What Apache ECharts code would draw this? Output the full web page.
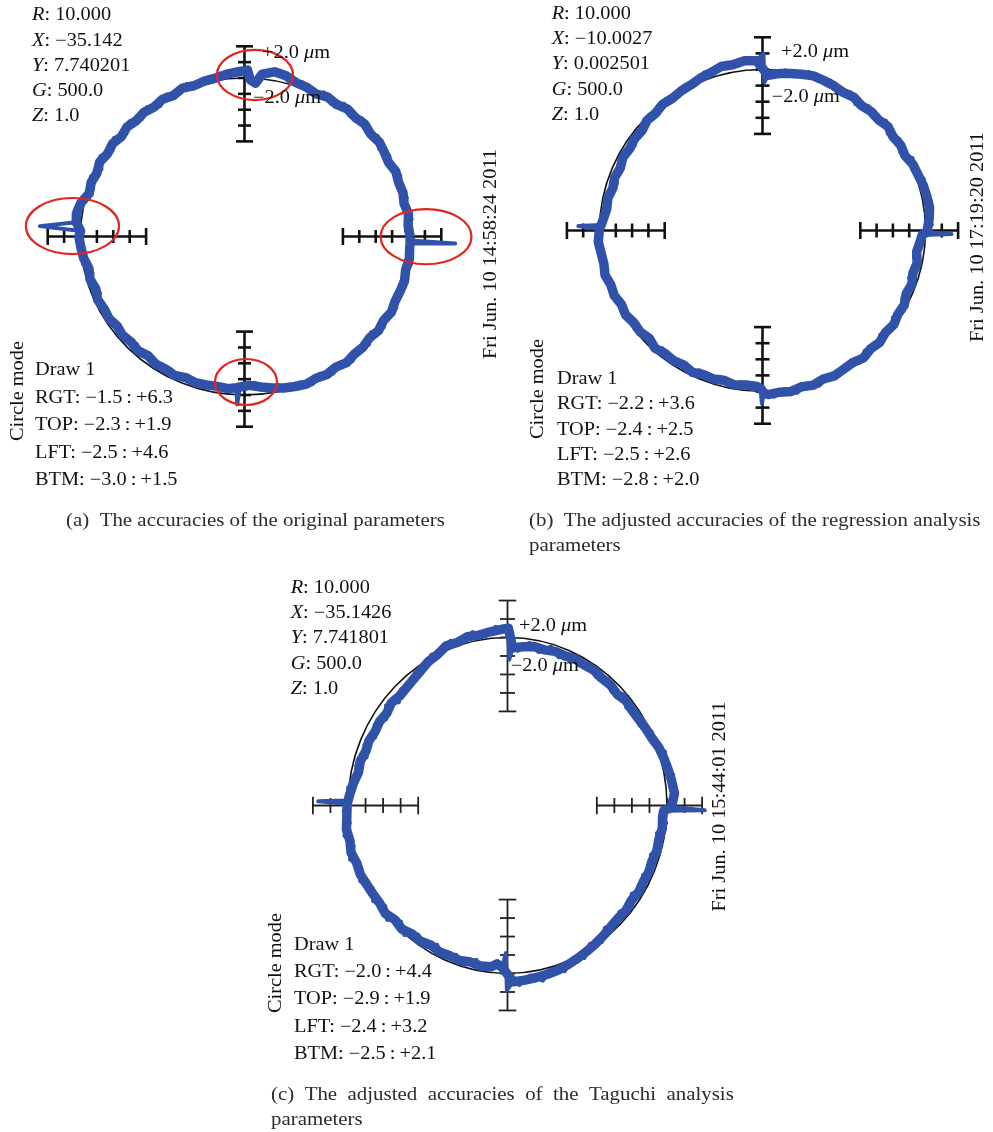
<!DOCTYPE html>
<html>
<head>
<meta charset="utf-8">
<script src="https://cdn.jsdelivr.net/npm/echarts@6/dist/echarts.min.js"></script>
<style>
  html, body { margin: 0; padding: 0; background: #ffffff; }
  #chart { width: 993px; height: 1132px; }
</style>
</head>
<body>
<div id="chart"></div>
<script>
// Nominal circle radius (R = 10.000 mm) is drawn as 10 plot units.
// Radial deviations are given in micrometres at the listed angle (degrees, counter-clockwise from +X).
const NOMINAL_R = 10;

// (a) original parameters: main samples every 4 degrees
const traceA = [
  [0,0.1],[4,0.0],[8,0.1],[12,-0.05],[16,0.05],[20,0.0],[24,0.1],[28,-0.05],[32,0.05],[36,0.15],
  [40,0.05],[44,0.2],[48,0.1],[52,0.2],[56,0.05],[60,0.15],[64,0.0],[68,0.15],[72,0.2],[76,0.45],
  [80,0.55],[84,0.3],[86,-0.3],[88,-0.1],[89,0.5],[92,0.4],[96,0.3],[100,0.15],[104,0.1],[108,0.0],
  [112,0.1],[116,-0.1],[120,0.0],[124,-0.15],[128,-0.05],[132,-0.15],[136,-0.05],[140,-0.2],[144,-0.05],[148,-0.15],
  [152,0.0],[156,-0.15],[160,-0.05],[164,-0.15],[168,0.2],[172,0.35],[175,0.3],[178,0.0],[180,0.1],
  [184,0.0],[188,-0.1],[192,-0.3],[196,-0.2],[200,-0.35],[204,-0.2],[208,-0.3],[212,-0.25],[216,-0.4],[220,-0.3],
  [224,-0.4],[228,-0.3],[232,-0.45],[236,-0.3],[240,-0.35],[244,-0.25],[248,-0.4],[252,-0.3],[256,-0.35],[260,-0.4],
  [264,-0.35],[267,-0.45],[268.3,-0.5],[272,-0.6],[276,-0.45],[280,-0.3],[284,-0.15],[288,-0.05],[292,0.05],
  [296,-0.05],[300,0.05],[304,-0.05],[308,0.1],[312,0.0],[316,0.05],[320,-0.05],[324,0.1],[328,0.0],[332,0.15],
  [336,0.05],[340,0.1],[344,0.15],[348,0.05],[352,0.15],[356,0.1],[357.5,0.1],[358.6,0.1]
];
// (a) reversal spikes at the quadrant crossings
const glitchA = [[177,2.5],[267.6,0.6],[358,2.85]];
// (a) in-between samples (fine ripple of the trace)
const fringeA = [
  [2,-0.15],[6,0.25],[10,-0.1],[14,0.2],[18,-0.15],[22,0.25],[26,-0.1],[30,0.2],[34,-0.1],[38,0.3],
  [42,-0.05],[46,0.35],[50,-0.05],[54,0.35],[58,-0.1],[62,0.3],[66,-0.1],[70,0.35],[74,0.1],[78,0.65],
  [82,0.35],[94,0.45],[98,0.05],[102,0.3],[106,-0.1],[110,0.25],[114,-0.15],[118,0.15],[122,-0.3],[126,0.1],
  [130,-0.3],[134,0.1],[138,-0.3],[142,0.1],[146,-0.3],[150,0.15],[154,-0.3],[158,0.1],[162,-0.3],[166,0.05],
  [170,0.45],[182,0.2],[186,-0.2],[190,0.0],[194,-0.45],[198,-0.1],[202,-0.5],[206,-0.15],[210,-0.45],[214,-0.15],
  [218,-0.5],[222,-0.2],[226,-0.55],[230,-0.2],[234,-0.55],[238,-0.2],[242,-0.5],[246,-0.15],[250,-0.5],[254,-0.2],
  [258,-0.5],[262,-0.25],[270,-0.4],[274,-0.75],[278,-0.25],[282,-0.45],[286,0.05],[290,-0.2],[294,0.2],[298,-0.2],
  [302,0.2],[306,-0.15],[310,0.25],[314,-0.15],[318,0.2],[322,-0.2],[326,0.25],[330,-0.1],[334,0.3],[338,-0.1],
  [342,0.3],[346,-0.05],[350,0.3],[354,-0.05]
];

// (b) regression-analysis parameters
const traceB = [
  [0,0.1],[4,0.25],[8,0.35],[12,0.3],[16,0.25],[20,0.15],[24,0.1],[28,-0.1],[32,0.0],[36,-0.1],
  [40,0.05],[44,-0.1],[48,-0.05],[52,-0.15],[56,0.0],[60,-0.1],[64,0.0],[68,0.05],[72,0.1],[76,0.0],
  [80,-0.1],[84,-0.2],[88,-0.35],[92,0.55],[96,0.6],[100,0.45],[104,0.5],[108,0.3],
  [112,0.2],[116,0.05],[120,0.0],[124,-0.1],[128,-0.05],[132,-0.2],[136,-0.15],[140,-0.35],[144,-0.3],[148,-0.4],
  [152,-0.3],[156,-0.45],[160,-0.35],[164,-0.45],[168,-0.3],[172,-0.35],[176,-0.2],[178,-0.1],[179.3,0.0],
  [184,0.1],[188,0.0],[192,-0.05],[196,0.05],[200,-0.1],[204,-0.05],[208,-0.2],[212,-0.1],[216,-0.25],[220,-0.2],
  [224,-0.35],[228,-0.15],[232,-0.3],[236,-0.25],[240,-0.35],[244,-0.2],[248,-0.35],[252,-0.3],[256,-0.4],[260,-0.25],
  [264,-0.35],[268,-0.3],[269.3,-0.2],[270.5,0.1],[272,0.2],[276,0.1],[280,0.15],[284,0.0],[288,0.1],
  [292,-0.05],[296,0.05],[300,-0.05],[304,-0.1],[308,0.05],[312,-0.1],[316,0.0],[320,-0.15],[324,-0.05],[328,-0.2],
  [332,-0.15],[336,-0.35],[340,-0.25],[344,-0.4],[348,-0.3],[352,-0.45],[356,-0.3],[358.4,-0.2],[359.5,0.1]
];
const glitchB = [[89.3,-0.8],[89.7,1.0],[178.6,1.3],[269.8,0.75],[358.9,1.6]];
const fringeB = [
  [2,0.4],[6,0.1],[10,0.5],[14,0.15],[18,0.4],[22,-0.05],[26,0.25],[30,-0.25],[34,0.15],[38,-0.25],
  [42,0.2],[46,-0.25],[50,0.1],[54,-0.3],[58,0.15],[62,-0.25],[66,0.2],[70,-0.1],[74,0.25],[78,-0.15],
  [82,0.05],[86,-0.4],[94,0.75],[98,0.4],[102,0.65],[106,0.35],[110,0.45],[114,0.0],[118,0.2],[122,-0.15],
  [126,0.1],[130,-0.25],[134,0.0],[138,-0.35],[142,-0.15],[146,-0.55],[150,-0.2],[154,-0.55],[158,-0.25],[162,-0.6],
  [166,-0.2],[170,-0.5],[174,-0.15],[182,-0.1],[186,0.2],[190,-0.15],[194,0.15],[198,-0.2],[202,0.05],[206,-0.3],
  [210,0.0],[214,-0.35],[218,-0.05],[222,-0.4],[226,-0.2],[230,-0.45],[234,-0.1],[238,-0.45],[242,-0.15],[246,-0.5],
  [250,-0.2],[254,-0.55],[258,-0.2],[262,-0.5],[266,-0.15],[274,0.35],[278,-0.05],[282,0.3],[286,-0.1],[290,0.25],
  [294,-0.15],[298,0.15],[302,-0.2],[306,0.15],[310,-0.25],[314,0.1],[318,-0.3],[322,0.05],[326,-0.35],[330,0.0],
  [334,-0.45],[338,-0.15],[342,-0.55],[346,-0.2],[350,-0.55],[354,-0.2]
];

// (c) Taguchi-analysis parameters
const traceC = [
  [0,0.27],[4,0.45],[8,0.36],[12,0.27],[16,0.18],[20,0.09],[24,-0.09],[28,-0.18],[32,-0.27],[36,-0.32],
  [40,-0.27],[44,-0.41],[48,-0.32],[52,-0.36],[56,-0.27],[60,-0.32],[64,-0.27],[68,-0.36],[72,-0.32],[76,-0.41],
  [80,-0.36],[84,-0.45],[88,-0.55],[89.7,0.5],[92,0.45],[96,0.36],[100,0.27],[104,0.32],[108,0.18],
  [112,0.23],[116,0.0],[120,-0.09],[124,-0.27],[128,-0.41],[132,-0.5],[136,-0.55],[140,-0.45],[144,-0.59],[148,-0.5],
  [152,-0.55],[156,-0.45],[160,-0.5],[164,-0.36],[168,-0.41],[172,-0.23],[176,-0.09],[178.3,0.0],[179.4,0.05],
  [184,0.09],[188,0.18],[192,0.09],[196,0.18],[200,0.05],[204,0.09],[208,0.0],[212,-0.05],[216,-0.09],[220,0.0],
  [224,-0.18],[228,-0.09],[232,-0.27],[236,-0.23],[240,-0.36],[244,-0.27],[248,-0.32],[252,-0.27],[256,-0.36],[260,-0.27],
  [264,-0.32],[266,-0.5],[268,-0.32],[272,0.45],[276,0.41],[280,0.36],[284,0.32],[288,0.27],
  [292,0.18],[296,0.09],[300,0.0],[304,-0.09],[308,-0.18],[312,-0.27],[316,-0.32],[320,-0.27],[324,-0.36],[328,-0.27],
  [332,-0.32],[336,-0.27],[340,-0.32],[344,-0.23],[348,-0.27],[352,-0.18],[356,-0.23],[358.2,-0.18],[359.4,0.27]
];
const glitchC = [[89.3,-1.2],[178.8,1.7],[269.3,-1.1],[269.8,0.9],[358.7,2.16]];
const fringeC = [
  [2,0.5],[6,0.25],[10,0.5],[14,0.1],[18,0.35],[22,-0.1],[26,0.05],[30,-0.4],[34,-0.1],[38,-0.5],
  [42,-0.1],[46,-0.55],[50,-0.15],[54,-0.5],[58,-0.1],[62,-0.5],[66,-0.15],[70,-0.55],[74,-0.15],[78,-0.6],
  [82,-0.2],[86,-0.7],[94,0.6],[98,0.15],[102,0.5],[106,0.1],[110,0.4],[114,0.05],[118,0.15],[122,-0.3],
  [126,-0.15],[130,-0.6],[134,-0.35],[138,-0.75],[142,-0.3],[146,-0.75],[150,-0.35],[154,-0.7],[158,-0.3],[162,-0.65],
  [166,-0.2],[170,-0.45],[174,0.05],[182,0.25],[186,-0.05],[190,0.35],[194,-0.05],[198,0.35],[202,-0.1],[206,0.25],
  [210,-0.2],[214,0.15],[218,-0.25],[222,0.15],[226,-0.35],[230,0.05],[234,-0.45],[238,-0.1],[242,-0.55],[246,-0.15],
  [250,-0.5],[254,-0.1],[258,-0.55],[262,-0.15],[274,0.65],[278,0.2],[282,0.6],[286,0.15],[290,0.45],[294,0.0],
  [298,0.25],[302,-0.25],[306,0.05],[310,-0.45],[314,-0.15],[318,-0.5],[322,-0.1],[326,-0.55],[330,-0.1],[334,-0.5],
  [338,-0.1],[342,-0.5],[346,-0.05],[350,-0.45],[354,0.0]
];

// Red highlight rings on (a): [centre x, centre y, radius x, radius y] in plot units
const ringsA = [
  [0.64, 10.19, 2.32, 1.58],
  [-10.49, 0.66, 2.84, 1.77],
  [11.07, -0.01, 2.77, 1.74],
  [0.09, -9.18, 1.89, 1.45]
];

// Crosshair directions (degrees) and division indices around the nominal circle
const crossAngles = [0, 90, 180, 270];
const crossDivisions = [-4, -3, -2, -1, 0, 1, 2];

// Header values
const paramsA = [['R', '10.000'], ['X', '\u221235.142'], ['Y', '7.740201'], ['G', '500.0'], ['Z', '1.0']];
const paramsB = [['R', '10.000'], ['X', '\u221210.0027'], ['Y', '0.002501'], ['G', '500.0'], ['Z', '1.0']];
const paramsC = [['R', '10.000'], ['X', '\u221235.1426'], ['Y', '7.741801'], ['G', '500.0'], ['Z', '1.0']];

// Range summaries
const rangesA = [['RGT', '\u22121.5', '+6.3'], ['TOP', '\u22122.3', '+1.9'], ['LFT', '\u22122.5', '+4.6'], ['BTM', '\u22123.0', '+1.5']];
const rangesB = [['RGT', '\u22122.2', '+3.6'], ['TOP', '\u22122.4', '+2.5'], ['LFT', '\u22122.5', '+2.6'], ['BTM', '\u22122.8', '+2.0']];
const rangesC = [['RGT', '\u22122.0', '+4.4'], ['TOP', '\u22122.9', '+1.9'], ['LFT', '\u22122.4', '+3.2'], ['BTM', '\u22122.5', '+2.1']];

const datesList = ['Fri Jun. 10 14:58:24 2011', 'Fri Jun. 10 17:19:20 2011', 'Fri Jun. 10 15:44:01 2011'];

const captionA = ['(a)\u2002The accuracies of the original parameters'];
const captionB = ['(b)\u2002The adjusted accuracies of the regression analysis', 'parameters'];
const captionC = ['(c)\u2002The\u2002adjusted\u2002accuracies\u2002of\u2002the\u2002Taguchi\u2002analysis', 'parameters'];

// ---- layout of the three panels (pixels) ----
const panels = [
  { trace: traceA, glitch: glitchA, fringe: fringeA, rings: ringsA, params: paramsA, ranges: rangesA, date: datesList[0], caption: captionA,
    cx: 244.5, cy: 236.5, sx: 16.4, sy: 15.85, div: 1.0,
    crossColor: '#111111', crossWidth: 2.6, tickHalf: 6.5, endHalf: 8.5,
    paramX: 32, paramY: 15.7, paramStep: 25.2,
    drawX: 35, drawY: 370.7, drawStep: 27.5,
    modeX: 18, modeY: 391, dateX: 491.7, dateY: 254,
    plusX: 262, plusY: 53, minusX: 253, minusY: 98,
    capX: 66, capY: 521 },
  { trace: traceB, glitch: glitchB, fringe: fringeB, rings: [], params: paramsB, ranges: rangesB, date: datesList[1], caption: captionB,
    cx: 762.5, cy: 230.5, sx: 16.3, sy: 16.1, div: 1.0,
    crossColor: '#111111', crossWidth: 2.6, tickHalf: 7, endHalf: 8.5,
    paramX: 551.7, paramY: 14.3, paramStep: 25.2,
    drawX: 557, drawY: 379, drawStep: 25.4,
    modeX: 538, modeY: 389, dateX: 978, dateY: 237,
    plusX: 781, plusY: 52, minusX: 771.7, minusY: 97,
    capX: 529, capY: 521 },
  { trace: traceC, glitch: glitchC, fringe: fringeC, rings: [], params: paramsC, ranges: rangesC, date: datesList[2], caption: captionC,
    cx: 507.5, cy: 805.5, sx: 15.95, sy: 16.8, div: 1.1,
    crossColor: '#222222', crossWidth: 1.8, tickHalf: 7.5, endHalf: 8.8,
    paramX: 290.7, paramY: 588, paramStep: 25.3,
    drawX: 294, drawY: 945, drawStep: 27.3,
    modeX: 276.7, modeY: 963, dateX: 720, dateY: 806.5,
    plusX: 519, plusY: 626.7, minusX: 510.7, minusY: 666.7,
    capX: 271, capY: 1095 }
];

const SPAN = 14;          // visible plot units either side of the centre
const TRACE_COLOR = '#3152a9';
const RING_COLOR = '#e2261f';
const SERIF = '"Liberation Serif", "DejaVu Serif", serif';
const TEXT_SIZE = 18;
const TEXT_STRETCH = 1.13;  // widen the Times-metric face toward the book face proportions
const italic = { i: { fontStyle: 'italic', fontSize: TEXT_SIZE, fontFamily: SERIF, fill: '#111' } };

function toPoints(samples, div) {
  const all = samples.slice().sort(function (a, b) { return a[0] - b[0]; });
  const pts = all.map(function (d) {
    const a = d[0] * Math.PI / 180;
    const r = NOMINAL_R + d[1] * div;
    return [r * Math.cos(a), r * Math.sin(a)];
  });
  pts.push(pts[0]);
  return pts;
}

function crossRenderer(p) {
  return function (params, api) {
    const ang = api.value(2) * Math.PI / 180;
    const c = Math.cos(ang), s = Math.sin(ang);
    const pts = crossDivisions.map(function (k) {
      const r = NOMINAL_R + k * p.div;
      return api.coord([r * c, r * s]);
    });
    const a = pts[0], b = pts[pts.length - 1];
    const dx = b[0] - a[0], dy = b[1] - a[1], L = Math.hypot(dx, dy);
    const nx = -dy / L, ny = dx / L;
    const style = { stroke: p.crossColor, lineWidth: p.crossWidth };
    const children = [{ type: 'line', shape: { x1: a[0], y1: a[1], x2: b[0], y2: b[1] }, style: style }];
    pts.forEach(function (q, i) {
      const h = (i === 0 || i === pts.length - 1) ? p.endHalf : p.tickHalf;
      children.push({ type: 'line', shape: { x1: q[0] - nx * h, y1: q[1] - ny * h, x2: q[0] + nx * h, y2: q[1] + ny * h }, style: style });
    });
    return { type: 'group', children: children };
  };
}

function ellipseRenderer(stroke, width) {
  return function (params, api) {
    const c = api.coord([api.value(0), api.value(1)]);
    const sz = api.size([api.value(2), api.value(3)]);
    return { type: 'ellipse', shape: { cx: c[0], cy: c[1], rx: sz[0], ry: sz[1] },
             style: { fill: 'none', stroke: stroke, lineWidth: width } };
  };
}

function text(x, y, str, extra) {
  const el = { type: 'text', x: x, y: y, z: 50, silent: true, scaleX: TEXT_STRETCH,
    style: { text: str, font: TEXT_SIZE + 'px ' + SERIF, fill: '#111', align: 'left', verticalAlign: 'middle', rich: italic } };
  if (extra) {
    if (extra.rotation != null) el.rotation = extra.rotation;
    Object.assign(el.style, extra.style || {});
  }
  return el;
}

const grids = [], xAxes = [], yAxes = [], series = [], graphics = [];

panels.forEach(function (p, i) {
  grids.push({ left: p.cx - SPAN * p.sx, top: p.cy - SPAN * p.sy, width: 2 * SPAN * p.sx, height: 2 * SPAN * p.sy, containLabel: false });
  xAxes.push({ type: 'value', gridIndex: i, min: -SPAN, max: SPAN, show: false });
  yAxes.push({ type: 'value', gridIndex: i, min: -SPAN, max: SPAN, show: false });

  // nominal circle
  series.push({ type: 'custom', xAxisIndex: i, yAxisIndex: i, z: 1, silent: true,
    renderItem: ellipseRenderer('#111111', 1.6),
    encode: { x: 0, y: 1 },
    data: [[0, 0, NOMINAL_R, NOMINAL_R]] });

  // crosshair scales
  series.push({ type: 'custom', xAxisIndex: i, yAxisIndex: i, z: 2, silent: true,
    renderItem: crossRenderer(p),
    encode: { x: 0, y: 1 },
    data: crossAngles.map(function (a) { return [0, 0, a]; }) });

  // measured path: broad body from the main samples
  series.push({ type: 'line', xAxisIndex: i, yAxisIndex: i, z: 3, silent: true,
    data: toPoints(p.trace, p.div), showSymbol: false, symbol: 'none', clip: false,
    lineStyle: { color: TRACE_COLOR, width: 9.5, join: 'round' } });
  // measured path: full detail including ripple and reversal spikes
  series.push({ type: 'line', xAxisIndex: i, yAxisIndex: i, z: 3, silent: true,
    data: toPoints(p.trace.concat(p.glitch, p.fringe), p.div), showSymbol: false, symbol: 'none', clip: false,
    lineStyle: { color: TRACE_COLOR, width: 4, join: 'round' } });

  if (p.rings.length) {
    series.push({ type: 'custom', xAxisIndex: i, yAxisIndex: i, z: 4, silent: true,
      renderItem: ellipseRenderer(RING_COLOR, 2.2),
      encode: { x: 0, y: 1 },
      data: p.rings });
  }

  // header block
  p.params.forEach(function (kv, j) {
    graphics.push(text(p.paramX, p.paramY + j * p.paramStep, '{i|' + kv[0] + '}: ' + kv[1]));
  });
  // range block
  graphics.push(text(p.drawX, p.drawY, 'Draw 1'));
  p.ranges.forEach(function (r, j) {
    graphics.push(text(p.drawX, p.drawY + (j + 1) * p.drawStep, r[0] + ': ' + r[1] + '\u2009:\u2009' + r[2]));
  });
  // rotated labels
  graphics.push(text(p.modeX, p.modeY, 'Circle mode', { rotation: Math.PI / 2, style: { align: 'center' } }));
  graphics.push(text(p.dateX, p.dateY, p.date, { rotation: Math.PI / 2, style: { align: 'center' } }));
  // scale labels
  graphics.push(text(p.plusX, p.plusY, '+2.0 {i|\u03bc}m'));
  graphics.push(text(p.minusX, p.minusY, '\u22122.0 {i|\u03bc}m'));
  // caption
  p.caption.forEach(function (line, j) {
    graphics.push({ type: 'text', x: p.capX, y: p.capY + j * 25, z: 50, silent: true, scaleX: 1.1,
      style: { text: line, font: '19px ' + SERIF, fill: '#2b2b2b', align: 'left', verticalAlign: 'middle' } });
  });
});

const chart = echarts.init(document.getElementById('chart'), null, { renderer: 'canvas' });
chart.setOption({
  animation: false,
  backgroundColor: '#ffffff',
  grid: grids,
  xAxis: xAxes,
  yAxis: yAxes,
  series: series,
  graphic: graphics
});
</script>
</body>
</html>
